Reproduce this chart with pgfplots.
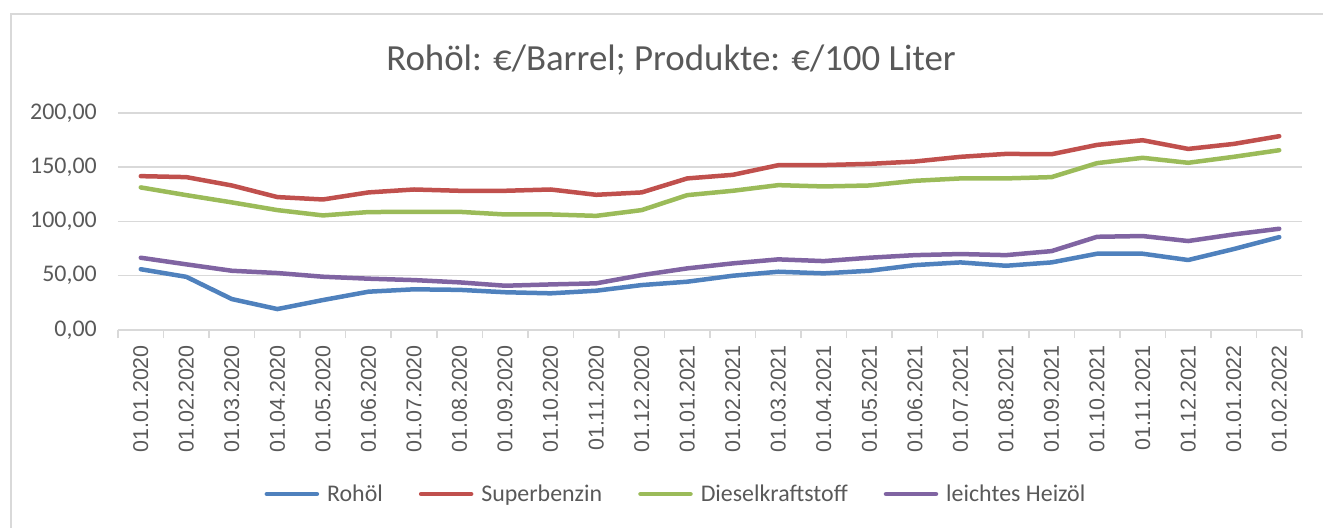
\documentclass[border=0pt]{standalone}
\usepackage{fontspec}
\setmainfont{Carlito}
\newfontfamily\arialf{Liberation Sans}
\usepackage{pgfplots}
\usepackage{pgfplotstable}
\pgfplotsset{compat=1.18}

\definecolor{cblue}{HTML}{4F81BD}
\definecolor{cred}{HTML}{C0504D}
\definecolor{cgreen}{HTML}{9BBB59}
\definecolor{cpurple}{HTML}{8064A2}
\definecolor{txtgray}{HTML}{595959}
\definecolor{gridgray}{HTML}{D9D9D9}

% idx  rohoel  super  diesel  heizoel
\pgfplotstableread{
x  roh   sup    die    hei
0  56.0  141.8  131.4  66.6
1  49.0  140.9  124.3  60.5
2  28.5  133.2  117.6  54.6
3  19.3  122.5  110.5  52.5
4  27.6  120.3  105.6  49.1
5  35.3  126.8  108.7  47.3
6  37.5  129.5  108.9  46.0
7  37.0  128.3  108.9  43.9
8  34.8  128.3  106.5  40.8
9  33.8  129.5  106.5  42.0
10 36.2  124.6  105.2  43.0
11 41.4  126.8  110.5  50.6
12 44.5  139.7  124.3  56.8
13 50.0  143.0  128.3  61.4
14 53.7  151.9  133.5  65.1
15 52.2  152.0  132.3  63.5
16 54.6  153.1  133.2  66.6
17 59.8  155.3  137.5  69.0
18 62.3  159.6  139.7  70.0
19 59.2  162.3  139.7  69.0
20 62.3  162.0  140.9  72.7
21 70.3  170.6  153.8  85.9
22 70.3  174.9  158.7  86.6
23 64.5  166.9  154.1  82.0
24 74.6  171.5  159.6  88.1
25 85.6  178.6  165.7  93.3
}\prices

\begin{document}
\begin{tikzpicture}
\begin{axis}[
    at={(118bp,198bp)}, anchor=south west,
    scale only axis,
    width=1184bp, height=217bp,
    xmin=-0.5, xmax=25.5,
    ymin=0, ymax=200,
    ytick={0,50,...,200},
    xtick={0,...,25},
    xticklabels={01.01.2020,01.02.2020,01.03.2020,01.04.2020,01.05.2020,01.06.2020,01.07.2020,01.08.2020,01.09.2020,01.10.2020,01.11.2020,01.12.2020,01.01.2021,01.02.2021,01.03.2021,01.04.2021,01.05.2021,01.06.2021,01.07.2021,01.08.2021,01.09.2021,01.10.2021,01.11.2021,01.12.2021,01.01.2022,01.02.2022},
    minor xtick={-0.5,0.5,...,25.5},
    major tick length=0pt,
    minor tick length=8bp,
    tick align=outside,
    minor tick style={draw=gridgray, line width=1.5bp},
    axis x line*=bottom, axis y line*=left,
    x axis line style={draw=gridgray, line width=1.5bp},
    y axis line style={draw=none},
    ymajorgrids,
    major grid style={draw=gridgray, line width=1.5bp},
    xticklabel style={rotate=90, anchor=east, inner sep=0pt, text=txtgray, font=\arialf\fontsize{21.5}{24}\selectfont},
    xticklabel shift=15bp,
    yticklabel style={anchor=east, inner sep=0pt, text=txtgray, font=\fontsize{24}{28}\selectfont},
    yticklabel shift=21bp,
    /pgf/number format/.cd, fixed, fixed zerofill, precision=2, use comma, assume math mode=true,
    /pgfplots/.cd,
    legend columns=4,
    legend style={at={(0.4704,-0.7558)}, anchor=center, draw=none, fill=none,
        font=\fontsize{24}{28}\selectfont, text=txtgray,
        nodes={inner sep=0pt},
        /tikz/every odd column/.append style={column sep=8bp},
        /tikz/every even column/.append style={column sep=36bp}},
    legend cell align=left,
    legend image code/.code={\draw[#1, line cap=round] (0bp,0bp) -- (50bp,0bp);},
    every axis plot/.append style={line width=4.5bp, line join=round, line cap=round, mark=none},
]
\addplot[cblue] table[x=x, y=roh] {\prices};
\addlegendentry{Rohöl}
\addplot[cred] table[x=x, y=sup] {\prices};
\addlegendentry{Superbenzin}
\addplot[cgreen] table[x=x, y=die] {\prices};
\addlegendentry{Dieselkraftstoff}
\addplot[cpurple] table[x=x, y=hei] {\prices};
\addlegendentry{leichtes Heizöl}
\end{axis}
\node[text=txtgray, font=\fontsize{37}{44}\selectfont] at (671bp,468bp) {Rohöl: €/Barrel; Produkte: €/100 Liter};
\draw[gridgray, line width=2bp] (11bp,0bp) -- (11bp,514bp) -- (1323bp,514bp);
\pgfresetboundingbox
\useasboundingbox (0,0) rectangle (1323bp,528bp);
\end{tikzpicture}
\end{document}
